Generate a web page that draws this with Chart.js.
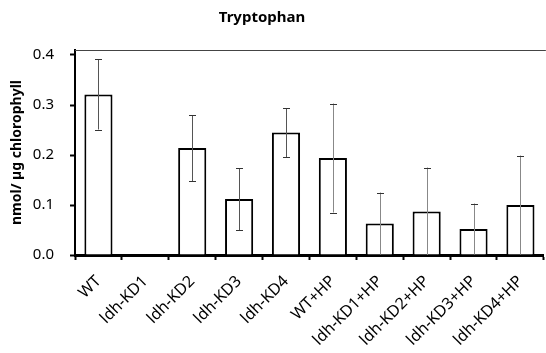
<!DOCTYPE html>
<html>
<head>
<meta charset="utf-8">
<script src="https://cdn.jsdelivr.net/npm/chart.js@4"></script>
<style>
  html, body { margin: 0; padding: 0; background: #fff; }
  #wrap { width: 546px; height: 353px; }
</style>
</head>
<body>
<div id="wrap"><canvas id="trp"></canvas></div>
<script>
const labels = ["WT", "ldh-KD1", "ldh-KD2", "ldh-KD3", "ldh-KD4", "WT+HP", "ldh-KD1+HP", "ldh-KD2+HP", "ldh-KD3+HP", "ldh-KD4+HP"];
const means = [0.321, 0, 0.214, 0.112, 0.245, 0.194, 0.063, 0.087, 0.052, 0.100];
const errs = [0.070, 0, 0.066, 0.062, 0.049, 0.109, 0.062, 0.088, 0.051, 0.099];
const yTicks = [0.0, 0.1, 0.2, 0.3, 0.4];

const FONT = "'Noto Sans', 'Open Sans', sans-serif";

// title (sits left of the plot centre in the original), top frame line, error bars
const errorBars = {
    id: 'errorBars',
    afterDraw(chart) {
        const ctx = chart.ctx;
        ctx.save();
        ctx.fillStyle = '#000';
        ctx.font = 'bold 15px ' + FONT;
        ctx.textAlign = 'center';
        ctx.textBaseline = 'middle';
        ctx.fillText('Tryptophan', 262, 18);
        ctx.restore();
    },
    afterDatasetsDraw(chart) {
        const ctx = chart.ctx;
        const x = chart.scales.x, y = chart.scales.y;
        const area = chart.chartArea;
        ctx.save();
        ctx.strokeStyle = '#444';
        ctx.lineWidth = 1;
        ctx.beginPath();
        ctx.moveTo(area.left, area.top + 0.5);
        ctx.lineTo(area.right + 2, area.top + 0.5);
        ctx.stroke();
        for (let i = 0; i < means.length; i++) {
            if (!errs[i]) continue;
            const px = Math.round(x.getPixelForValue(i)) + 0.5;
            const hi = y.getPixelForValue(means[i] + errs[i]);
            const lo = y.getPixelForValue(Math.max(0, means[i] - errs[i]));
            ctx.strokeStyle = i < 5 ? '#555' : '#888';
            ctx.beginPath();
            ctx.moveTo(px, hi);
            ctx.lineTo(px, lo);
            ctx.stroke();
            ctx.strokeStyle = '#333';
            ctx.beginPath();
            ctx.moveTo(px - 3.5, Math.round(hi) + 0.5);
            ctx.lineTo(px + 3.5, Math.round(hi) + 0.5);
            if (means[i] - errs[i] > 0.002) {
                ctx.moveTo(px - 3.5, Math.round(lo) + 0.5);
                ctx.lineTo(px + 3.5, Math.round(lo) + 0.5);
            }
            ctx.stroke();
        }
        ctx.restore();
    }
};

new Chart('trp', {
    type: 'bar',
    data: {
        labels: labels,
        datasets: [{
            data: means,
            backgroundColor: '#ffffff',
            borderColor: '#000000',
            borderWidth: 2,
            barPercentage: 0.6,
            categoryPercentage: 1.0
        }]
    },
    options: {
        responsive: true,
        maintainAspectRatio: false,
        animation: false,
        layout: { padding: { left: 4, right: 0, top: 50, bottom: 0 } },
        plugins: {
            legend: { display: false },
            tooltip: { enabled: false },
            title: { display: false }
        },
        scales: {
            x: {
                grid: {
                    display: true,
                    drawOnChartArea: false,
                    drawTicks: true,
                    tickLength: 5,
                    tickWidth: 2,
                    color: '#000',
                    offset: true
                },
                border: { display: true, color: '#000', width: 3 },
                ticks: {
                    color: '#000',
                    font: { family: FONT, size: 16 },
                    minRotation: 45,
                    maxRotation: 45,
                    padding: 12
                },
                afterFit(scale) { scale.height = 98; }
            },
            y: {
                min: 0,
                max: 0.41,
                afterBuildTicks(axis) { axis.ticks = yTicks.map(v => ({ value: v })); },
                grid: {
                    display: true,
                    drawOnChartArea: false,
                    tickLength: 5,
                    tickWidth: 2,
                    color: '#000'
                },
                border: { display: true, color: '#000', width: 2 },
                ticks: {
                    color: '#000',
                    font: { family: FONT, size: 15 },
                    padding: 16,
                    callback: v => v.toFixed(1)
                },
                title: {
                    display: true,
                    text: 'nmol/ µg chlorophyll',
                    color: '#000',
                    font: { family: FONT, size: 14, weight: 'bold' },
                    padding: { top: 5, bottom: 4 }
                },
                afterFit(scale) { scale.width = 71; }
            }
        }
    },
    plugins: [errorBars]
});
</script>
</body>
</html>
